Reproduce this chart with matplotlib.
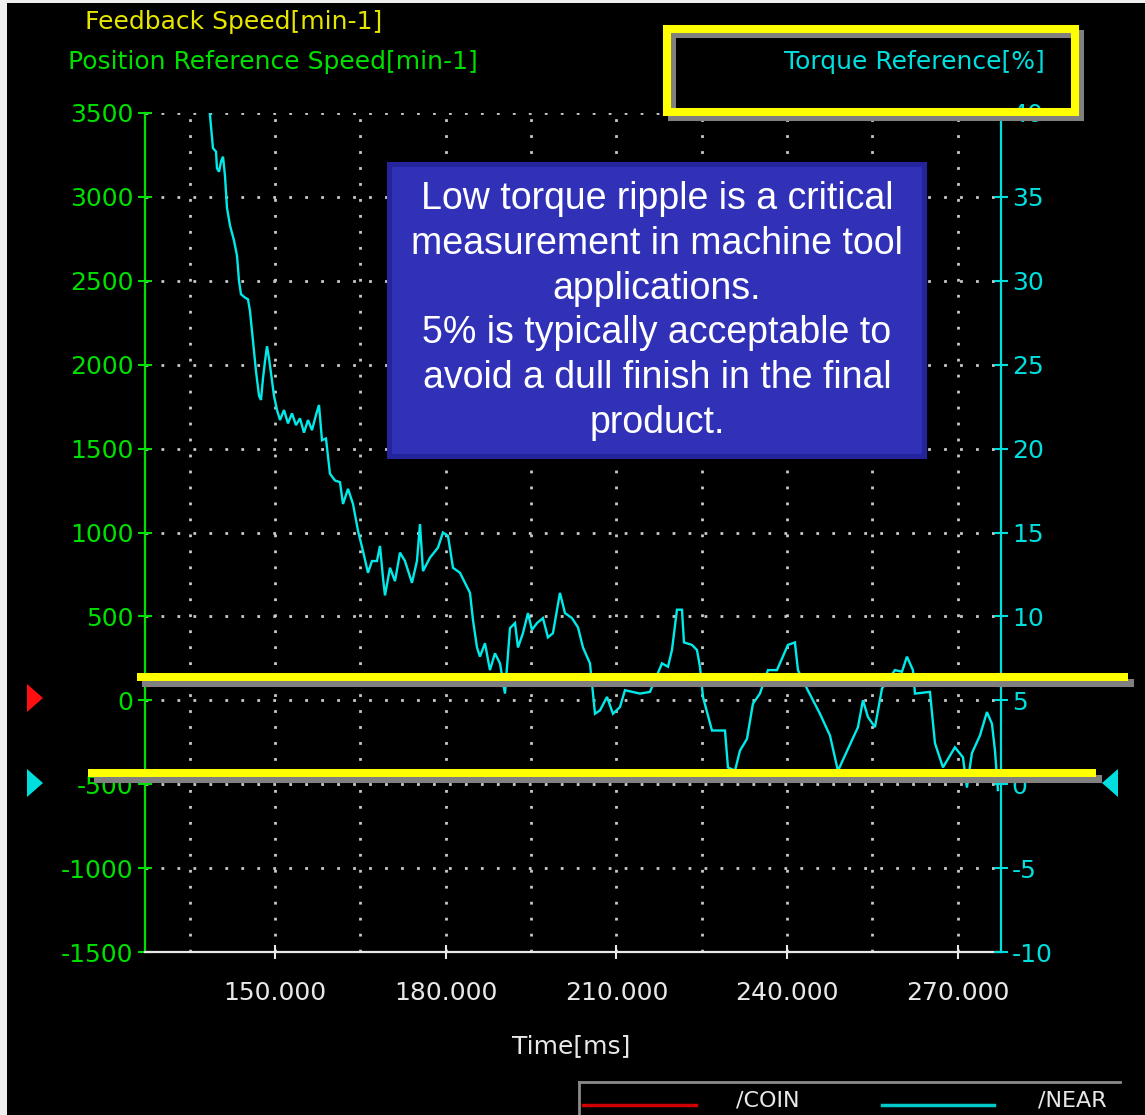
import matplotlib
matplotlib.use("Agg")
import matplotlib.pyplot as plt
from matplotlib.patches import Rectangle, Polygon
from matplotlib.lines import Line2D

plt.rcParams["lines.scale_dashes"] = False
plt.rcParams["font.family"] = ["DejaVu Sans"]

# Torque reference trace: time [ms] and torque [%]
time_ms = [138.40, 138.75, 139.10, 139.63, 139.80, 140.16, 140.51, 140.86, 141.21, 141.56,
           142.09, 142.79, 143.32, 143.67, 144.02, 144.72, 145.25, 145.60, 145.96, 146.31,
           146.66, 147.19, 147.54, 147.89, 148.24, 148.59, 148.94, 149.29, 149.82, 150.35,
           150.88, 151.58, 152.28, 152.98, 153.69, 154.39, 155.09, 155.80, 156.50, 157.20,
           157.73, 158.26, 158.96, 159.66, 160.54, 161.42, 161.95, 162.83, 163.71, 164.59,
           165.46, 166.34, 167.04, 167.92, 168.45, 168.98, 169.33, 170.21, 171.09, 171.97,
           172.84, 174.07, 174.95, 175.48, 176.01, 177.24, 178.64, 179.52, 180.40, 181.28,
           182.51, 183.39, 184.27, 184.79, 185.50, 186.02, 186.90, 187.78, 188.66, 189.54,
           190.42, 191.30, 192.18, 192.70, 193.58, 194.46, 195.16, 196.04, 197.09, 197.97,
           198.85, 200.08, 200.96, 202.19, 203.25, 204.13, 205.36, 206.24, 207.12, 208.35,
           209.40, 210.63, 211.51, 214.15, 215.90, 218.01, 219.07, 219.77, 220.65, 221.53,
           221.88, 223.28, 224.16, 224.69, 225.22, 226.80, 229.09, 229.61, 230.84, 231.72,
           232.95, 234.00, 235.23, 236.64, 238.22, 240.15, 241.38, 241.91, 243.49, 245.78,
           247.54, 248.94, 250.70, 252.46, 253.34, 254.22, 255.45, 256.68, 258.96, 260.19,
           261.07, 262.12, 262.48, 265.11, 265.99, 267.40, 269.50, 270.91, 271.61, 272.49,
           273.90, 275.13, 276.01, 276.54, 277.06]
torque_pct = [40.5, 39.2, 37.9, 37.7, 36.7, 36.5, 37.1, 37.4, 36.25, 34.35,
              33.3, 32.4, 31.5, 30.0, 29.2, 29.0, 28.9, 28.2, 27.0, 25.8,
              24.6, 23.15, 22.9, 24.2, 25.2, 26.1, 25.4, 24.5, 23.15, 22.3,
              21.7, 22.3, 21.5, 22.1, 21.4, 21.8, 20.95, 21.7, 21.1, 22.0,
              22.6, 20.5, 20.6, 18.5, 18.1, 18.0, 16.7, 17.6, 16.7, 15.1,
              13.9, 12.6, 13.3, 13.3, 14.2, 12.3, 11.25, 12.9, 12.1, 13.8,
              13.3, 12.0, 13.3, 15.5, 12.7, 13.5, 14.1, 15.0, 14.8, 12.9,
              12.6, 12.0, 11.4, 9.8, 8.15, 7.6, 8.4, 6.8, 7.8, 7.2,
              5.4, 9.3, 9.6, 8.15, 9.0, 10.2, 9.2, 9.6, 9.9, 8.75,
              9.0, 11.4, 10.2, 9.9, 9.35, 8.15, 7.2, 4.2, 4.4, 5.2,
              4.2, 4.6, 5.6, 5.4, 5.5, 7.2, 7.0, 8.0, 10.4, 10.4,
              8.45, 8.3, 8.0, 7.0, 5.2, 3.2, 3.2, 1.0, 0.8, 2.0,
              2.7, 4.8, 5.4, 6.8, 6.8, 8.3, 8.45, 6.8, 5.7, 4.2,
              2.9, 0.8, 2.1, 3.4, 5.0, 4.0, 3.4, 5.7, 6.8, 6.7,
              7.6, 6.8, 5.4, 5.5, 2.45, 1.0, 2.2, 1.6, -0.2, 1.85,
              2.9, 4.3, 3.6, 2.0, -0.35]

speed_ticks = [-1500, -1000, -500, 0, 500, 1000, 1500, 2000, 2500, 3000, 3500]
torque_ticks = [-10, -5, 0, 5, 10, 15, 20, 25, 30, 35, 40]
time_ticks = [150, 180, 210, 240, 270]
time_grid = [135, 150, 165, 180, 195, 210, 225, 240, 255, 270]
time_range = (127.15, 277.6)

note_lines = ["Low torque ripple is a critical",
              "measurement in machine tool",
              "applications.",
              "5% is typically acceptable to",
              "avoid a dull finish in the final",
              "product."]

GREEN = "#00e000"
CYAN = "#00dede"
YELLOW_TXT = "#e6e600"
YELLOW = "#ffff00"
SHADOW = "#808080"
WHITE = "#e8e8e8"
DOT = "#c8c8c8"
FS = 18

W, H, DPI = 1145, 1115, 100
fig = plt.figure(figsize=(W / DPI, H / DPI), dpi=DPI, facecolor="black")

# light window frame on the left and top
fig.add_artist(Rectangle((0, 0), 7 / W, 1, transform=fig.transFigure,
                         facecolor="#efefef", edgecolor="none", zorder=-10))
fig.add_artist(Rectangle((0, 1 - 3 / H), 1, 3 / H, transform=fig.transFigure,
                         facecolor="#efefef", edgecolor="none", zorder=-10))

x0, x1, y0, y1 = 145, 1001, 113, 952
ax = fig.add_axes([x0 / W, (H - y1) / H, (x1 - x0) / W, (y1 - y0) / H])
ax.set_facecolor("none")
ax.set_xlim(*time_range)
ax.set_ylim(speed_ticks[0], speed_ticks[-1])

# dotted grid
for s in speed_ticks[1:]:
    ax.axhline(s, color=DOT, lw=2.0, linestyle=(0, (2.0, 9.5)), zorder=0.5,
               dash_capstyle="butt")
for t in time_grid:
    ax.axvline(t, color=DOT, lw=2.0, linestyle=(0, (2.0, 9.5)), zorder=0.5,
               dash_capstyle="butt")

ax.set_yticks(speed_ticks)
ax.set_yticklabels([str(s) for s in speed_ticks])
ax.tick_params(axis="y", colors=GREEN, direction="inout", length=10.5, width=1.5,
               labelsize=FS, pad=3)
ax.set_xticks(time_ticks)
ax.set_xticklabels([f"{t:.3f}" for t in time_ticks])
ax.tick_params(axis="x", colors=WHITE, direction="inout", length=9.5, width=1.5,
               labelsize=FS, pad=16)
ax.set_xlabel("Time[ms]", color=WHITE, fontsize=FS)
ax.xaxis.set_label_coords((571 - x0) / (x1 - x0), (y1 - 1034) / (y1 - y0))

for side in ("top", "right"):
    ax.spines[side].set_visible(False)
ax.spines["left"].set_color(GREEN)
ax.spines["left"].set_linewidth(1.6)
ax.spines["bottom"].set_color(WHITE)
ax.spines["bottom"].set_linewidth(1.6)

ax2 = ax.twinx()
ax2.set_ylim(torque_ticks[0], torque_ticks[-1])
ax2.set_yticks(torque_ticks)
ax2.set_yticklabels([str(v) for v in torque_ticks])
ax2.tick_params(axis="y", colors=CYAN, direction="inout", length=9.5, width=1.5,
                labelsize=FS, pad=3)
for side in ("top", "left", "bottom"):
    ax2.spines[side].set_visible(False)
ax2.spines["right"].set_color(CYAN)
ax2.spines["right"].set_linewidth(1.6)
ax2.plot(time_ms, torque_pct, color="#00eaea", lw=1.7, solid_joinstyle="miter")

# overlay in pixel units for captions and annotations
ov = fig.add_axes([0, 0, 1, 1])
ov.set_xlim(0, W)
ov.set_ylim(H, 0)
ov.axis("off")
ov.set_zorder(10)

ov.text(85, 22, "Feedback Speed[min-1]", color=YELLOW_TXT, fontsize=FS,
        ha="left", va="center")
ov.text(68, 62, "Position Reference Speed[min-1]", color=GREEN, fontsize=FS,
        ha="left", va="center")
ov.text(1045, 62, "Torque Reference[%]", color=CYAN, fontsize=FS,
        ha="right", va="center")

# highlighted torque caption frame with drop shadow
ov.add_patch(Rectangle((672, 34), 408, 83, fill=False, edgecolor=SHADOW, lw=5.8,
                       joinstyle="miter"))
ov.add_patch(Rectangle((667, 29), 408, 83, fill=False, edgecolor=YELLOW, lw=5.8,
                       joinstyle="miter"))

# ripple band limits
ov.add_patch(Rectangle((142, 679), 992, 8, facecolor=SHADOW, edgecolor="none"))
ov.add_patch(Rectangle((137, 673), 991, 8, facecolor=YELLOW, edgecolor="none"))
ov.add_patch(Rectangle((94, 775), 1008, 8, facecolor=SHADOW, edgecolor="none"))
ov.add_patch(Rectangle((88, 769), 1008, 8, facecolor=YELLOW, edgecolor="none"))

# zero-level cursors
ov.add_patch(Polygon([(27, 684), (43, 698), (27, 712)], closed=True,
                     facecolor="#ff1010", edgecolor="none"))
ov.add_patch(Polygon([(27, 769), (43, 783), (27, 797)], closed=True,
                     facecolor=CYAN, edgecolor="none"))
ov.add_patch(Polygon([(1118, 769), (1102, 783), (1118, 797)], closed=True,
                     facecolor=CYAN, edgecolor="none"))

# note box
ov.add_patch(Rectangle((387, 162), 540, 297, facecolor="#24249c", edgecolor="none"))
ov.add_patch(Rectangle((392, 167), 530, 287, facecolor="#3131b8", edgecolor="none"))
ov.text(657, 311, "\n".join(note_lines), color="white", fontsize=27,
        family="Liberation Sans", ha="center", va="center", multialignment="center",
        linespacing=1.31)

# signal legend at the bottom
ov.add_line(Line2D([579, 1120], [1082, 1082], color="#8a8a8a", lw=2))
ov.add_line(Line2D([579, 579], [1082, 1115], color="#8a8a8a", lw=2))
ov.add_line(Line2D([583, 696], [1105, 1105], color="#d00000", lw=2.5))
ov.add_line(Line2D([882, 994], [1105, 1105], color="#00c8c8", lw=2.5))
ov.text(768, 1101, "/COIN", color=WHITE, fontsize=16, ha="center", va="center")
ov.text(1072, 1101, "/NEAR", color=WHITE, fontsize=16, ha="center", va="center")

fig.savefig("out.png", dpi=DPI, facecolor="black")
